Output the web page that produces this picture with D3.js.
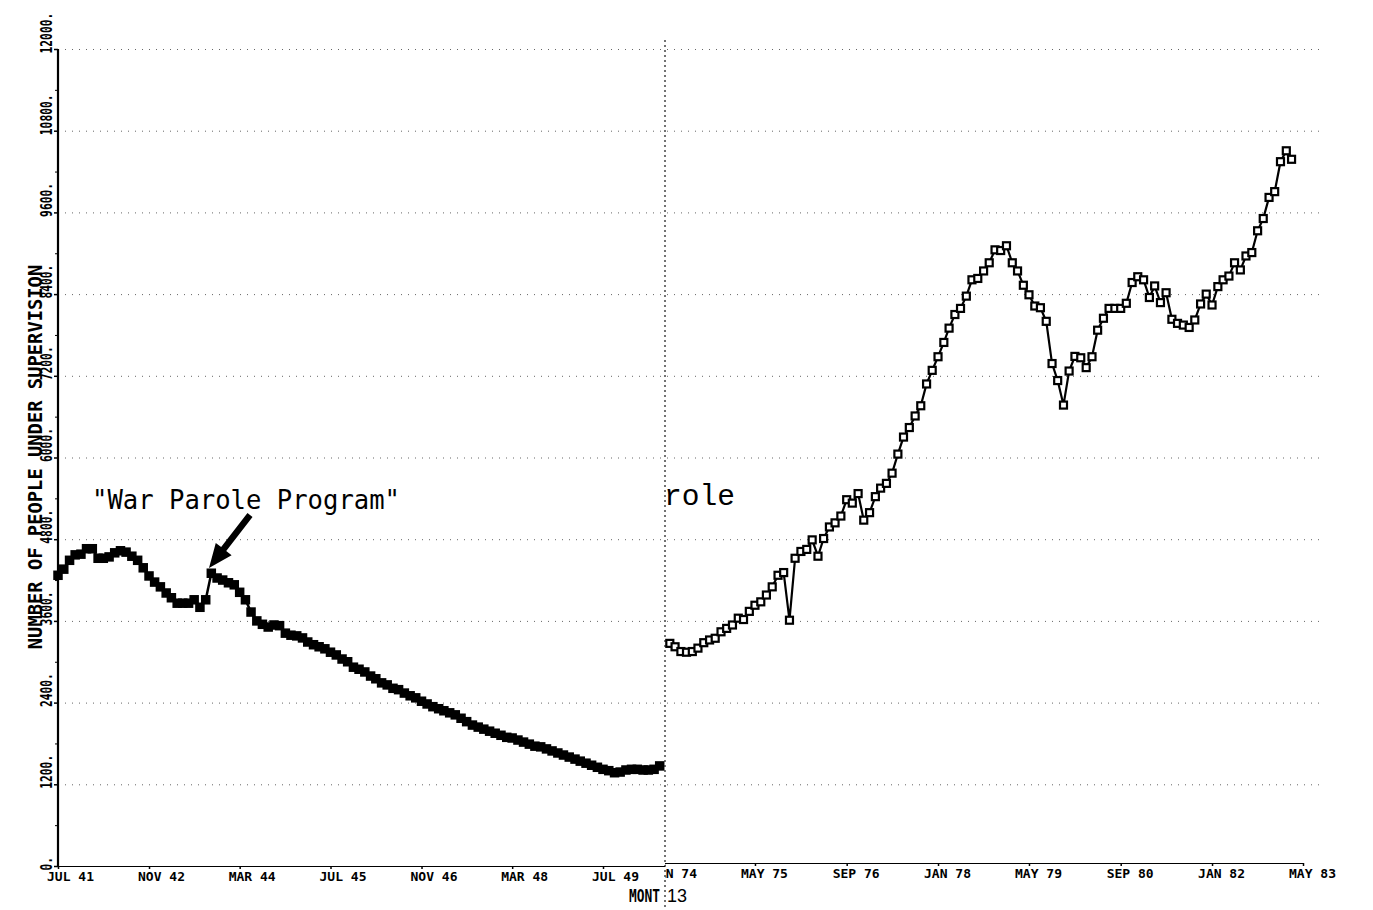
<!DOCTYPE html>
<html>
<head>
<meta charset="utf-8">
<script src="https://cdn.jsdelivr.net/npm/d3@7"></script>
<style>
  body { margin: 0; background: #fff; }
  svg { display: block; }
  .plot { font-family: 'DejaVu Sans Mono', monospace; font-weight: bold; }
</style>
</head>
<body>
<svg width="1373" height="910"></svg>
<script>
/* monthly counts, Jul 1941 onwards */
const leftValues = [
  4270, 4360, 4490, 4570, 4580, 4660, 4660, 4520, 4520, 4540, 4600, 4630,
  4610, 4550, 4490, 4380, 4260, 4170, 4100, 4010, 3940, 3860, 3860, 3860,
  3910, 3800, 3910, 4300, 4230, 4200, 4160, 4130, 4020, 3910, 3730, 3600,
  3550, 3510, 3540, 3530, 3420, 3390, 3380, 3350, 3290, 3250, 3220, 3190,
  3140, 3100, 3040, 3000, 2920, 2890, 2850, 2790, 2750, 2690, 2660, 2610,
  2590, 2540, 2500, 2470, 2420, 2380, 2340, 2310, 2280, 2250, 2220, 2170,
  2120, 2070, 2040, 2010, 1980, 1950, 1920, 1890, 1880, 1850, 1820, 1790,
  1760, 1750, 1720, 1690, 1660, 1630, 1600, 1570, 1540, 1510, 1480, 1450,
  1420, 1400, 1370, 1380, 1410, 1420, 1420, 1410, 1410, 1420, 1470
]

/* monthly counts, Feb 1974 onwards */
const rightValues = [
  3270, 3220, 3150, 3140, 3150, 3200, 3280, 3320, 3345, 3440, 3490, 3540,
  3640, 3620, 3740, 3830, 3880, 3980, 4100, 4270, 4310, 3610, 4520, 4620,
  4650, 4790, 4550, 4810, 4980, 5040, 5140, 5380, 5330, 5470, 5080, 5190,
  5425, 5550, 5620, 5770, 6050, 6300, 6440, 6610, 6760, 7080, 7280, 7480,
  7690, 7900, 8100, 8190, 8370, 8610, 8630, 8740, 8860, 9050, 9040, 9110,
  8860, 8740, 8530, 8390, 8225, 8200, 8000, 7380, 7130, 6770, 7270, 7485,
  7465, 7320, 7480, 7870, 8045, 8190, 8190, 8190, 8265, 8570, 8655, 8610,
  8350, 8520, 8275, 8420, 8030, 7970, 7945, 7910, 8020, 8255, 8400, 8240,
  8510, 8610, 8665, 8860, 8755, 8960, 9010, 9330, 9510, 9820, 9905, 10345,
  10505, 10380
]

const yTicks = [0, 1200, 2400, 3600, 4800, 6000, 7200, 8400, 9600, 10800, 12000]
const yTickLabels = ['0.', '1200.', '2400.', '3600.', '4800.', '6000.', '7200.', '8400.', '9600.', '10800.', '12000.']

const leftTickDates = [[1941, 6], [1942, 10], [1944, 2], [1945, 6], [1946, 10], [1948, 2], [1949, 6]]
const leftTickLabels = ['JUL 41', 'NOV 42', 'MAR 44', 'JUL 45', 'NOV 46', 'MAR 48', 'JUL 49']
const rightTickDates = [[1974, 0], [1975, 4], [1976, 8], [1978, 0], [1979, 4], [1980, 8], [1982, 0], [1983, 4]]
const rightTickLabels = ['JAN 74', 'MAY 75', 'SEP 76', 'JAN 78', 'MAY 79', 'SEP 80', 'JAN 82', 'MAY 83']

const plotLeft = 58
const plotTop = 49
const plotBottom = 866
const breakX = 665
const plotRight = 1303

const svg = d3.select('svg').append('g').attr('class', 'plot')

let yScale = d3.scaleLinear().domain([0, 12000]).range([plotBottom, plotTop])

let xLeft = d3.scaleTime()
  .domain([new Date(1941, 6, 1), new Date(1949, 6, 1)])
  .range([plotLeft, 603])

let xRight = d3.scaleTime()
  .domain([new Date(1974, 0, 1), new Date(1983, 4, 1)])
  .range([664, plotRight])

const leftData = leftValues.map((v, i) => ({ date: d3.timeMonth.offset(new Date(1941, 6, 1), i), value: v }))
const rightData = rightValues.map((v, i) => ({ date: d3.timeMonth.offset(new Date(1974, 1, 1), i), value: v }))

/* clip regions for the two glued halves */
const defs = svg.append('defs')
defs.append('clipPath').attr('id', 'clipL')
  .append('rect').attr('x', 0).attr('y', 0).attr('width', breakX).attr('height', 910)
defs.append('clipPath').attr('id', 'clipR')
  .append('rect').attr('x', breakX).attr('y', 0).attr('width', 1373 - breakX).attr('height', 910)

/* horizontal dotted grid */
svg.append('g')
  .attr('transform', `translate(${plotLeft}, 0)`)
  .call(d3.axisLeft(yScale).tickValues(yTicks.slice(1)).tickSize(-(1325 - plotLeft)).tickFormat(''))
  .call(g => g.select('.domain').remove())
  .selectAll('line')
    .attr('stroke', '#666')
    .attr('stroke-dasharray', '1,6')

/* vertical dotted grid */
function vGrid(scale, dates, clip) {
  svg.append('g')
    .attr('clip-path', `url(#${clip})`)
    .attr('transform', `translate(0, ${plotBottom})`)
    .call(d3.axisBottom(scale)
      .tickValues(dates.map(d => new Date(d[0], d[1], 1)))
      .tickSize(-(plotBottom - plotTop))
      .tickFormat(''))
    .call(g => g.select('.domain').remove())
    .selectAll('line')
      .attr('stroke', '#666')
      .attr('stroke-dasharray', '1,7')
}
vGrid(xLeft, leftTickDates.slice(1), 'clipL')
vGrid(xRight, rightTickDates, 'clipR')

/* the seam between the two charts */
svg.append('line')
  .attr('x1', breakX).attr('x2', breakX)
  .attr('y1', 40).attr('y2', 910)
  .attr('stroke', '#444')
  .attr('stroke-width', 1.5)
  .attr('stroke-dasharray', '2,3')

/* y axis */
let yAxis = svg.append('g')
  .attr('transform', `translate(${plotLeft}, 0)`)
  .call(d3.axisLeft(yScale).tickValues(yTicks).tickSize(4).tickFormat((d, i) => yTickLabels[i]))
yAxis.select('.domain').attr('stroke-width', 2.2).attr('d', `M0,${plotTop}V${plotBottom}`)
yAxis.selectAll('line').attr('stroke-width', 1.5)
yAxis.selectAll('text')
  .attr('x', 0)
  .attr('dy', 0)
  .attr('text-anchor', 'start')
  .attr('transform', 'translate(-6, 4) rotate(-90)')
  .attr('textLength', (d, i) => yTickLabels[i].length * 6.8)
  .attr('lengthAdjust', 'spacingAndGlyphs')
  .style('font-family', 'DejaVu Sans Mono')
  .style('font-weight', 'bold')
  .style('font-size', '16px')
  .attr('fill', '#000')

svg.append('g')
  .attr('transform', `translate(${plotLeft}, 0)`)
  .call(d3.axisLeft(yScale).tickValues(d3.range(600, 12000, 1200)).tickSize(3).tickFormat(''))
  .call(g => g.select('.domain').remove())

/* x axes */
function xAxis(scale, dates, labels, clip, y, shift) {
  let g = svg.append('g')
    .attr('clip-path', `url(#${clip})`)
    .attr('transform', `translate(0, ${y})`)
    .call(d3.axisBottom(scale)
      .tickValues(dates.map(d => new Date(d[0], d[1], 1)))
      .tickSizeInner(-4)
      .tickSizeOuter(0)
      .tickFormat((d, i) => labels[i]))
  g.select('.domain').attr('stroke-width', 2.2)
  g.selectAll('line').attr('stroke-width', 1.5).attr('y1', 3)
  g.selectAll('text')
    .attr('y', 15)
    .attr('dy', 0)
    .attr('dx', shift)
    .style('font-family', 'DejaVu Sans Mono')
    .style('font-weight', 'bold')
    .style('font-size', '13px')
    .attr('fill', '#000')
  return g
}
xAxis(xLeft, leftTickDates, leftTickLabels, 'clipL', plotBottom, 12)
  .select('.domain').attr('d', `M${plotLeft},0H${breakX}`)
xAxis(xRight, rightTickDates, rightTickLabels, 'clipR', plotBottom - 3, 9)
  .select('.domain').attr('d', `M${breakX},0H${plotRight}`)

/* series */
function series(data, scale, clip, size, fill, width) {
  let g = svg.append('g').attr('clip-path', `url(#${clip})`)
  let line = d3.line()
    .x(d => scale(d.date))
    .y(d => yScale(d.value))
  g.append('path')
    .datum(data)
    .attr('d', line)
    .attr('fill', 'none')
    .attr('stroke', '#000')
    .attr('stroke-width', width)
  g.selectAll('rect')
    .data(data)
    .enter()
    .append('rect')
      .attr('x', d => scale(d.date) - size / 2)
      .attr('y', d => yScale(d.value) - size / 2)
      .attr('width', size)
      .attr('height', size)
      .attr('fill', fill)
      .attr('stroke', '#000')
      .attr('stroke-width', width)
}
series(leftData, xLeft, 'clipL', 7, '#000', 2.5)
series(rightData, xRight, 'clipR', 7, '#fff', 2.2)

/* axis title */
svg.append('text')
  .attr('transform', `translate(42, 457) rotate(-90)`)
  .attr('text-anchor', 'middle')
  .style('font-size', '18.8px')
  .text('NUMBER OF PEOPLE UNDER SUPERVISION')

svg.append('text')
  .attr('x', 660)
  .attr('y', 902)
  .attr('text-anchor', 'end')
  .style('font-size', '17px')
  .attr('textLength', 31)
  .attr('lengthAdjust', 'spacingAndGlyphs')
  .text('MONT')

svg.append('text')
  .attr('x', 667)
  .attr('y', 902)
  .style('font-family', 'Liberation Sans')
  .style('font-weight', 'normal')
  .style('font-size', '18px')
  .text('13')

/* annotations */
svg.append('text')
  .attr('x', 92)
  .attr('y', 509)
  .style('font-weight', 'normal')
  .style('font-size', '27px')
  .attr('textLength', 308)
  .attr('lengthAdjust', 'spacingAndGlyphs')
  .text('"War Parole Program"')

svg.append('text')
  .attr('x', 664)
  .attr('y', 505)
  .style('font-family', 'Liberation Mono')
  .style('font-weight', 'normal')
  .style('font-size', '29px')
  .attr('textLength', 71)
  .attr('lengthAdjust', 'spacingAndGlyphs')
  .text('role')

/* arrow to the spike */
let tail = [250, 515]
let tip = [209, 568]
let dx = tip[0] - tail[0]
let dy = tip[1] - tail[1]
let len = Math.hypot(dx, dy)
let ux = dx / len, uy = dy / len
let nx = -uy, ny = ux
let bx = tip[0] - 24 * ux, by = tip[1] - 24 * uy
svg.append('path')
  .attr('d', [
    [tail[0] + 3.2 * nx, tail[1] + 3.2 * ny],
    [bx + 3.2 * nx, by + 3.2 * ny],
    [bx + 10 * nx, by + 10 * ny],
    tip,
    [bx - 10 * nx, by - 10 * ny],
    [bx - 3.2 * nx, by - 3.2 * ny],
    [tail[0] - 3.2 * nx, tail[1] - 3.2 * ny]
  ].map((p, i) => (i ? 'L' : 'M') + p[0] + ',' + p[1]).join('') + 'Z')
  .attr('fill', '#000')
</script>
</body>
</html>
